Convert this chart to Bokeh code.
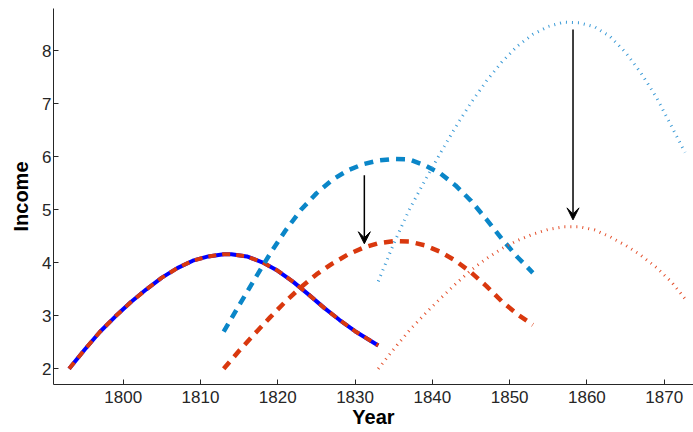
from bokeh.plotting import figure
from bokeh.models import Range1d, Arrow, VeeHead, ColumnDataSource
from bokeh.embed import file_html
from bokeh.resources import INLINE

# Generation 1 (solid blue with red dashed overlay)
years_g1 = [1793, 1795, 1797, 1799, 1801, 1803, 1805, 1807, 1809, 1811, 1813, 1814,
            1816, 1818, 1820, 1822, 1824, 1826, 1828, 1830, 1832, 1833]
income_g1 = [2.00, 2.36, 2.70, 2.99, 3.26, 3.50, 3.72, 3.90, 4.04, 4.12, 4.16, 4.16,
             4.12, 4.01, 3.85, 3.64, 3.40, 3.15, 2.92, 2.71, 2.53, 2.44]

# Generation 2, blue dashed
years_g2_blue = [1813, 1815, 1817, 1819, 1821, 1823, 1825, 1827, 1829, 1831, 1833, 1835,
                 1837, 1839, 1841, 1843, 1845, 1847, 1849, 1851, 1853]
income_g2_blue = [2.70, 3.20, 3.69, 4.17, 4.61, 5.00, 5.31, 5.56, 5.74, 5.86, 5.93, 5.96,
                  5.95, 5.84, 5.69, 5.46, 5.17, 4.82, 4.45, 4.11, 3.81]

# Generation 2, red dashed
years_g2_red = [1813, 1815, 1817, 1819, 1821, 1823, 1825, 1827, 1829, 1831, 1833, 1835,
                1837, 1839, 1841, 1843, 1845, 1847, 1849, 1851, 1853]
income_g2_red = [2.00, 2.34, 2.66, 2.97, 3.27, 3.54, 3.78, 3.98, 4.15, 4.28, 4.37, 4.41,
                 4.40, 4.33, 4.21, 4.04, 3.82, 3.56, 3.27, 3.03, 2.83]

# Generation 3, blue dotted
years_g3_blue = [1833, 1835, 1837, 1839, 1841, 1843, 1845, 1847, 1849, 1851, 1853, 1855,
                 1857, 1859, 1861, 1863, 1865, 1867, 1869, 1871, 1872.7]
income_g3_blue = [3.65, 4.36, 5.00, 5.54, 6.06, 6.56, 7.02, 7.43, 7.79, 8.09, 8.31, 8.46,
                  8.54, 8.53, 8.45, 8.27, 7.97, 7.58, 7.12, 6.56, 6.08]

# Generation 3, red dotted
years_g3_red = [1833, 1835, 1837, 1839, 1841, 1843, 1845, 1847, 1849, 1851, 1853, 1855,
                1857, 1859, 1861, 1863, 1865, 1867, 1869, 1871, 1872.7]
income_g3_red = [2.00, 2.37, 2.72, 3.03, 3.32, 3.60, 3.86, 4.08, 4.27, 4.42, 4.54, 4.63,
                 4.68, 4.68, 4.62, 4.49, 4.33, 4.14, 3.91, 3.63, 3.32]

# Arrows
arrow_x = [1831.2, 1858.2]
arrow_top = [5.65, 8.40]
arrow_tip = [4.36, 4.81]

x_ticks = [1800, 1810, 1820, 1830, 1840, 1850, 1860, 1870]
y_ticks = [2, 3, 4, 5, 6, 7, 8]

RED = "#d9380e"
BLUE = "#0a86c8"
AXIS = "#262626"
FONT = "Liberation Sans"

p = figure(width=693, height=432, output_backend="svg", toolbar_location=None,
           x_range=Range1d(1790.98, 1873.79), y_range=Range1d(1.704, 8.798),
           min_border_left=53, min_border_right=0, min_border_top=8, min_border_bottom=48)
p.outline_line_color = None
p.grid.visible = False
p.background_fill_color = "white"
p.border_fill_color = "white"

for ax in (p.xaxis[0], p.yaxis[0]):
    ax.axis_line_color = AXIS
    ax.axis_line_width = 1
    ax.major_tick_line_color = AXIS
    ax.major_tick_in = 5
    ax.major_tick_out = 0
    ax.minor_tick_line_color = None
    ax.major_label_text_font = FONT
    ax.major_label_text_font_size = "17px"
    ax.major_label_text_color = AXIS
    ax.axis_label_text_font = FONT
    ax.axis_label_text_font_size = "20px"
    ax.axis_label_text_font_style = "bold"
    ax.axis_label_text_color = "black"

p.xaxis.ticker = x_ticks
p.yaxis.ticker = y_ticks
p.xaxis.major_label_standoff = 6
p.yaxis.major_label_standoff = 2
p.xaxis.axis_label = "Year"
p.yaxis.axis_label = "Income"
p.xaxis.axis_label_standoff = 0
p.yaxis.axis_label_standoff = 7

# Generation 1
p.line(years_g1, income_g1, line_color="#0000ff", line_width=4)
p.line(years_g1, income_g1, line_color=RED, line_width=4, line_dash="8 6")
# Generation 2
p.line(years_g2_blue, income_g2_blue, line_color=BLUE, line_width=4.5, line_dash="9 7")
p.line(years_g2_red, income_g2_red, line_color=RED, line_width=4.5, line_dash="9 7")
# Generation 3
p.line(years_g3_blue, income_g3_blue, line_color="#3a9ad6", line_width=3, line_dash="1 5")
p.line(years_g3_red, income_g3_red, line_color="#e4502c", line_width=3, line_dash="1 5")

arrow_src = ColumnDataSource(dict(x=arrow_x, y0=arrow_top, y1=arrow_tip))
p.add_layout(Arrow(end=VeeHead(size=12, fill_color="black", line_color="black", line_width=1),
                   x_start="x", y_start="y0", x_end="x", y_end="y1", source=arrow_src,
                   line_color="black", line_width=1.5))

open("out.html", "w").write(file_html(p, INLINE))
